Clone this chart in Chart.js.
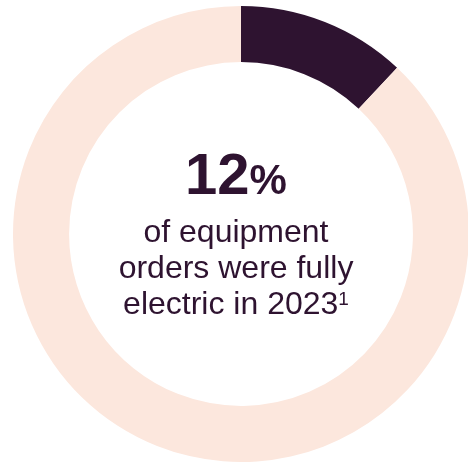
<!DOCTYPE html>
<html>
<head>
<meta charset="utf-8">
<script src="https://cdn.jsdelivr.net/npm/chart.js@4"></script>
<style>
    html, body {
        margin: 0;
        padding: 0;
        width: 468px;
        height: 465px;
        overflow: hidden;
        background: #ffffff;
        font-family: "Liberation Sans", Arial, sans-serif;
        color: #2e1330;
    }
    #wrap {
        position: absolute;
        left: 13px;
        top: 6px;
        width: 456px;
        height: 456px;
    }
    .center {
        position: absolute;
        left: 0;
        width: 472px;
        text-align: center;
        white-space: nowrap;
    }
    #big {
        top: 145px;
        font-size: 58px;
        font-weight: bold;
        line-height: 1;
    }
    #big .pct {
        font-size: 42px;
    }
    #sub {
        top: 213px;
        font-size: 32px;
        line-height: 36px;
    }
    #sub sup {
        font-size: 19px;
        line-height: 0;
        vertical-align: 9px;
    }
</style>
</head>
<body>
<div id="wrap"><canvas id="ordersChart"></canvas></div>
<div class="center" id="big">12<span class="pct">%</span></div>
<div class="center" id="sub">of equipment<br>orders were fully<br>electric in 2023<sup>1</sup></div>

<script>
// Share of equipment orders, 2023
const orderLabels = ['Fully electric', 'Other'];
const orderValues = [12, 88];
const orderColors = ['#2e1330', '#fce7dd'];

const createOrdersChart = () => {
    // Get the canvas context
    const ctx = document.getElementById('ordersChart').getContext('2d');

    // Create the chart
    new Chart(ctx, {
        type: 'doughnut',
        data: {
            labels: orderLabels,
            datasets: [{
                data: orderValues,
                backgroundColor: orderColors,
                borderWidth: 0
            }]
        },
        options: {
            cutout: '75.4%',
            responsive: true,
            maintainAspectRatio: false,
            animation: false,
            layout: {
                padding: 0
            },
            plugins: {
                legend: {
                    display: false
                },
                tooltip: {
                    enabled: false
                }
            }
        }
    });
}

createOrdersChart();
</script>
</body>
</html>
